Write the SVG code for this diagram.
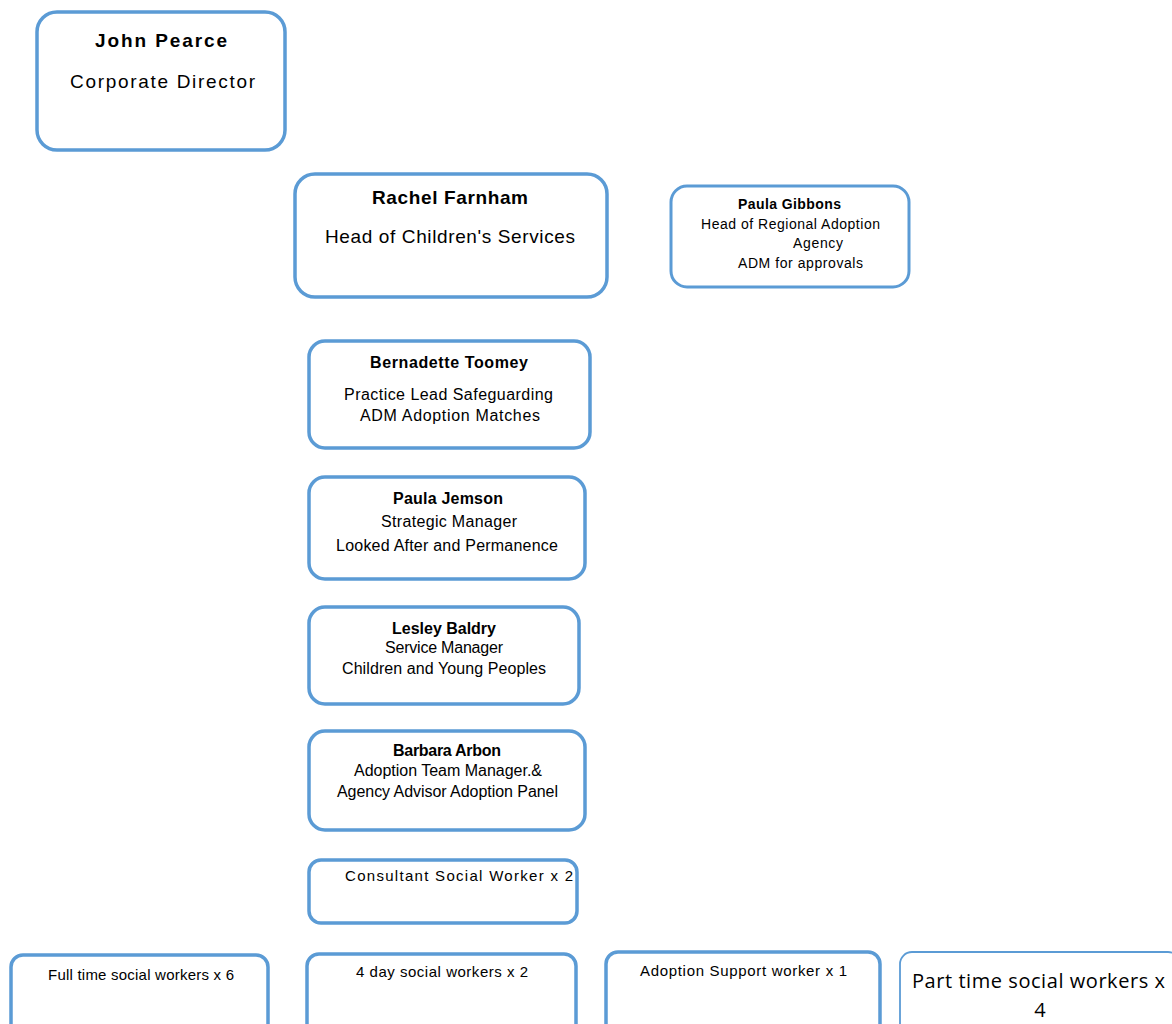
<svg xmlns="http://www.w3.org/2000/svg" width="1172" height="1024" viewBox="0 0 1172 1024">
<style>
.box{fill:#fff;stroke:#5b9bd5;stroke-width:3.5}
.thin{fill:#fff;stroke:#5b9bd5;stroke-width:1.8}
text{font-family:"Liberation Sans",Arial,sans-serif;fill:#000;text-anchor:middle}
.b{font-weight:bold}
.big{font-size:19px}
.mid{font-size:16px}
.sm{font-size:14px}
.low{font-size:15px}
.nm{font-size:16px;font-weight:bold}
.cal{font-family:"Open Sans","Liberation Sans",sans-serif;font-size:20px}
</style>
<rect width="1172" height="1024" fill="#fff"/>
<g id="connectors"></g>
<g id="john">
<rect class="box" x="37" y="12" width="248" height="138" rx="20"/>
<text class="b big" x="161" y="47" textLength="132" lengthAdjust="spacing">John Pearce</text>
<text class="big" x="162.5" y="88" textLength="185" lengthAdjust="spacing">Corporate Director</text>
</g>
<g id="rachel">
<rect class="box" x="295" y="174" width="312" height="123" rx="20"/>
<text class="b big" x="450" y="204" textLength="156" lengthAdjust="spacing">Rachel Farnham</text>
<text class="big" x="450" y="243" textLength="250" lengthAdjust="spacing">Head of Children's Services</text>
</g>
<g id="paulag">
<rect class="box" x="671" y="186" width="238" height="101" rx="16" style="stroke-width:3"/>
<text class="b sm" x="789.5" y="209" textLength="103" lengthAdjust="spacing">Paula Gibbons</text>
<text class="sm" x="790.5" y="229" textLength="179" lengthAdjust="spacing">Head of Regional Adoption</text>
<text class="sm" x="818" y="248" textLength="50" lengthAdjust="spacing">Agency</text>
<text class="sm" x="800.5" y="268" textLength="125" lengthAdjust="spacing">ADM for approvals</text>
</g>
<g id="bernadette">
<rect class="box" x="309" y="341" width="281" height="107" rx="16"/>
<text class="nm" x="449" y="368" textLength="158" lengthAdjust="spacing">Bernadette Toomey</text>
<text class="mid" x="448.5" y="400" textLength="209" lengthAdjust="spacing">Practice Lead Safeguarding</text>
<text class="mid" x="450" y="421" textLength="180" lengthAdjust="spacing">ADM Adoption Matches</text>
</g>
<g id="paulaj">
<rect class="box" x="309" y="477" width="276" height="102" rx="16"/>
<text class="nm" x="448" y="504" textLength="110" lengthAdjust="spacing">Paula Jemson</text>
<text class="mid" x="449" y="527" textLength="136" lengthAdjust="spacing">Strategic Manager</text>
<text class="mid" x="447" y="551" textLength="222" lengthAdjust="spacing">Looked After and Permanence</text>
</g>
<g id="lesley">
<rect class="box" x="309" y="607" width="270" height="97" rx="16"/>
<text class="nm" x="444" y="634" textLength="104" lengthAdjust="spacing">Lesley Baldry</text>
<text class="mid" x="444" y="653" textLength="118" lengthAdjust="spacing">Service Manager</text>
<text class="mid" x="444" y="674" textLength="204" lengthAdjust="spacing">Children and Young Peoples</text>
</g>
<g id="barbara">
<rect class="box" x="309" y="731" width="276" height="99" rx="16"/>
<text class="nm" x="447" y="756" textLength="108" lengthAdjust="spacing">Barbara Arbon</text>
<text class="mid" x="448" y="776" textLength="188" lengthAdjust="spacing">Adoption Team Manager.&amp;</text>
<text class="mid" x="447.5" y="797" textLength="221" lengthAdjust="spacing">Agency Advisor Adoption Panel</text>
</g>
<g id="consultant">
<rect class="box" x="309" y="860" width="268" height="63" rx="12"/>
<text class="low" x="459" y="881" textLength="228" lengthAdjust="spacing">Consultant Social Worker x 2</text>
</g>
<g id="fulltime">
<rect class="box" x="11" y="955" width="257" height="85" rx="12"/>
<text class="low" x="141" y="980" textLength="186" lengthAdjust="spacing">Full time social workers x 6</text>
</g>
<g id="fourday">
<rect class="box" x="307" y="954" width="269" height="86" rx="12"/>
<text class="low" x="442" y="977" textLength="172" lengthAdjust="spacing">4 day social workers x 2</text>
</g>
<g id="support">
<rect class="box" x="606" y="952" width="274" height="88" rx="12"/>
<text class="low" x="743.5" y="976" textLength="207" lengthAdjust="spacing">Adoption Support worker x 1</text>
</g>
<g id="parttime">
<rect class="thin" x="900" y="952" width="280" height="88" rx="12"/>
<text class="cal" x="1038.5" y="988" textLength="253" lengthAdjust="spacing">Part time social workers x</text>
<text class="cal" x="1040" y="1017">4</text>
</g>
</svg>
